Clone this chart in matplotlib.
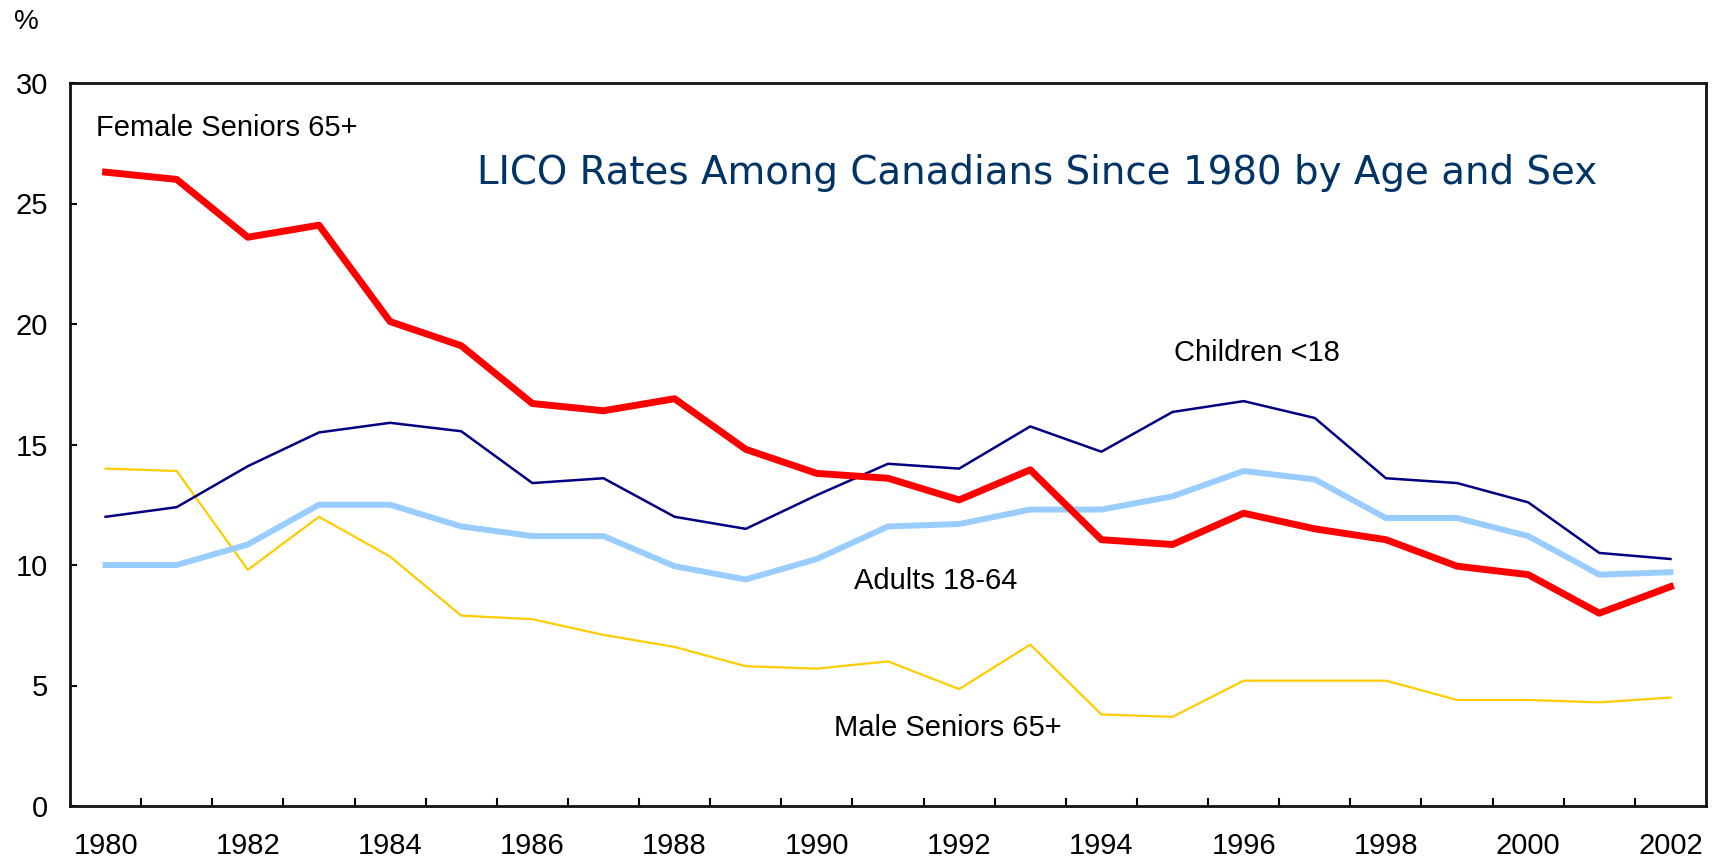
import matplotlib
matplotlib.use("Agg")
import matplotlib.pyplot as plt

plt.rcParams['font.family'] = ['Liberation Sans', 'DejaVu Sans']

years = list(range(1980, 2003))
female_seniors = [26.3, 26.0, 23.6, 24.1, 20.1, 19.1, 16.7, 16.4, 16.9, 14.8, 13.8, 13.6,
                  12.7, 13.95, 11.05, 10.85, 12.15, 11.5, 11.05, 9.95, 9.6, 8.0, 9.1]
children = [12.0, 12.4, 14.1, 15.5, 15.9, 15.55, 13.4, 13.6, 12.0, 11.5, 12.9, 14.2,
            14.0, 15.75, 14.7, 16.35, 16.8, 16.1, 13.6, 13.4, 12.6, 10.5, 10.25]
adults = [10.0, 10.0, 10.85, 12.5, 12.5, 11.6, 11.2, 11.2, 9.95, 9.4, 10.25, 11.6,
          11.7, 12.3, 12.3, 12.85, 13.9, 13.55, 11.95, 11.95, 11.2, 9.6, 9.7]
male_seniors = [14.0, 13.9, 9.8, 12.0, 10.35, 7.9, 7.75, 7.1, 6.6, 5.8, 5.7, 6.0,
                4.85, 6.7, 3.8, 3.7, 5.2, 5.2, 5.2, 4.4, 4.4, 4.3, 4.5]
year_labels = [str(y) for y in range(1980, 2003, 2)]
y_ticks = [0, 5, 10, 15, 20, 25, 30]

title = "LICO Rates Among Canadians Since 1980 by Age and Sex"

W, H = 1715, 865
fig = plt.figure(figsize=(W / 100, H / 100), dpi=100)
ax = fig.add_axes([70 / W, 1 - 806 / H, (1706 - 70) / W, (806 - 83) / H])

ax.plot(years, male_seniors, color='#FFCC00', lw=1.6, zorder=2)
ax.plot(years, adults, color='#99CCFF', lw=4.3, zorder=3)
ax.plot(years, children, color='#000080', lw=1.8, zorder=4)
ax.plot(years, female_seniors, color='#FF0000', lw=5.0, zorder=5)

ax.set_xlim(1979.5, 2002.5)
ax.set_ylim(0, 30)

# tick marks at category boundaries, labels at category centres
ax.set_xticks([y + 0.5 for y in years[:-1]])
ax.set_xticklabels([])
ax.set_xticks(list(range(1980, 2003, 2)), minor=True)
ax.set_xticklabels(year_labels, minor=True)
ax.tick_params(axis='x', which='major', direction='in', length=6, width=1.5)
ax.tick_params(axis='x', which='minor', length=0, pad=19, labelsize=21)

ax.set_yticks(y_ticks)
ax.set_yticklabels([str(v) for v in y_ticks])
ax.tick_params(axis='y', direction='in', length=5, width=1.5, pad=16, labelsize=21)

for s in ax.spines.values():
    s.set_linewidth(2)
    s.set_color('#111111')

fig.text(26 / W, 1 - 22 / H, '%', fontsize=20, ha='center', va='center')

ax.text(1979.86, 28.15, 'Female Seniors 65+', fontsize=21, ha='left', va='center')
ax.text(1996.18, 18.8, 'Children <18', fontsize=21, ha='center', va='center')
ax.text(1991.67, 9.35, 'Adults 18-64', fontsize=21, ha='center', va='center')
ax.text(1991.84, 3.22, 'Male Seniors 65+', fontsize=21, ha='center', va='center')

t = ax.text(1993.09, 26.28, title, fontsize=28, ha='center', va='center',
            color='#003366', family=['DejaVu Sans'])
fig.canvas.draw()
w = t.get_window_extent().width
t.set_fontsize(28 * 1121 / w)

fig.savefig('out.png', dpi=100)
